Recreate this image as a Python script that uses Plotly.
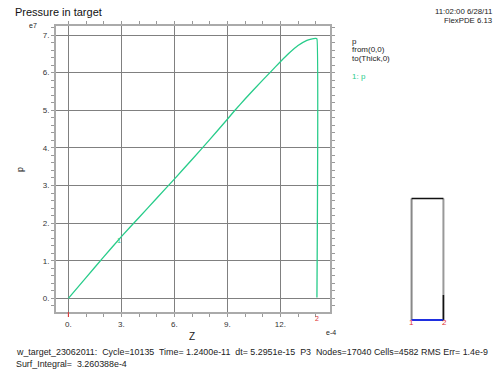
import plotly.graph_objects as go

# ---- data ----
z_vals = [0, 1, 2, 3, 4, 5, 6, 7, 8, 9, 9.43, 10, 11, 11.41, 12, 12.5, 13, 13.5, 13.8, 14.0, 14.07, 14.07]
p_vals = [0, 0.55, 1.1, 1.64, 2.15, 2.66, 3.17, 3.69, 4.22, 4.76, 5.0, 5.3, 5.8, 6.0, 6.29, 6.52, 6.72, 6.86, 6.90, 6.91, 6.9, 0.02]
x_ticks = [0, 3, 6, 9, 12]
x_tick_labels = ["0.", "3.", "6.", "9.", "12."]
y_ticks = [0, 1, 2, 3, 4, 5, 6, 7]
y_tick_labels = ["0.", "1.", "2.", "3.", "4.", "5.", "6.", "7."]
thick = 14.07
mini_height = 52.0
mini_seg_top = 10.7

W, H = 499, 374
FONT = "Liberation Sans, Arial, sans-serif"
GREEN = "#27cc8a"
RED = "#e03030"

def px(x):
    return x / W

def py(y):
    return 1 - y / H

fig = go.Figure()

fig.add_trace(go.Scatter(x=z_vals, y=p_vals, mode="lines",
                         line=dict(color=GREEN, width=1.3, shape="spline", smoothing=0.3),
                         showlegend=False, xaxis="x", yaxis="y"))

# mini map of domain
fig.add_trace(go.Scatter(x=[0, 0], y=[0, mini_height], mode="lines",
                         line=dict(color="#888", width=2), showlegend=False, xaxis="x2", yaxis="y2"))
fig.add_trace(go.Scatter(x=[thick, thick], y=[0, mini_height], mode="lines",
                         line=dict(color="#999", width=2), showlegend=False, xaxis="x2", yaxis="y2"))
fig.add_trace(go.Scatter(x=[0, thick], y=[mini_height, mini_height], mode="lines",
                         line=dict(color="#111", width=1.5), showlegend=False, xaxis="x2", yaxis="y2"))
fig.add_trace(go.Scatter(x=[thick, thick], y=[0, mini_seg_top], mode="lines",
                         line=dict(color="#111", width=1.5), showlegend=False, xaxis="x2", yaxis="y2"))
fig.add_trace(go.Scatter(x=[0, thick], y=[0, 0], mode="lines",
                         line=dict(color="#1f2fe0", width=2), showlegend=False, xaxis="x2", yaxis="y2"))

axis_common = dict(showline=True, linecolor="#aaa", linewidth=2, mirror="allticks",
                   ticks="outside", ticklen=3, tickcolor="#999",
                   showgrid=True, gridcolor="#808080", gridwidth=1, zeroline=False,
                   tickfont=dict(family=FONT, size=8, color="#333"))

fig.update_layout(
    width=W, height=H,
    margin=dict(l=0, r=0, t=0, b=0),
    paper_bgcolor="white", plot_bgcolor="white",
    xaxis=dict(domain=[px(56), px(330)], range=[-0.70, 14.81],
               tickmode="array", tickvals=x_ticks, ticktext=x_tick_labels,
               minor=dict(tickmode="linear", tick0=0, dtick=1, ticks="outside", ticklen=3, tickcolor="#999", showgrid=False),
               anchor="y", **axis_common),
    yaxis=dict(domain=[py(312), py(26)], range=[-0.364, 7.24],
               tickmode="array", tickvals=y_ticks, ticktext=y_tick_labels,
               minor=dict(tickmode="linear", tick0=0, dtick=0.2, ticks="outside", ticklen=3, tickcolor="#999", showgrid=False),
               anchor="x", **axis_common),
    xaxis2=dict(domain=[px(410), px(445)], range=[-0.7, thick + 0.7], visible=False, anchor="y2"),
    yaxis2=dict(domain=[py(321.5), py(197)], range=[-0.6, mini_height + 0.6], visible=False, anchor="x2"),
)

def ann(text, x, y, size=8, color="#222", xanchor="left", yanchor="middle", textangle=0, xref="paper", yref="paper"):
    fig.add_annotation(text=text, x=x, y=y, xref=xref, yref=yref, showarrow=False,
                       xanchor=xanchor, yanchor=yanchor, textangle=textangle,
                       font=dict(family=FONT, size=size, color=color))

ann("Pressure in target", px(13), py(12), size=11, color="#111")
ann("11:02:00 6/28/11", px(494), py(11.5), size=7.8, xanchor="right")
ann("FlexPDE 6.13", px(494), py(20.5), size=7.8, xanchor="right")
ann("e7", px(27), py(25), size=7)
ann("p", px(20), py(170), size=9, textangle=-90, xanchor="center")
ann("Z", px(192), py(336), size=10, xanchor="center")
ann("e-4", px(324), py(332), size=7)
ann("p", px(350), py(41), size=8)
ann("from(0,0)", px(350), py(50), size=8)
ann("to(Thick,0)", px(350), py(59), size=8)
ann("1: p", px(350), py(77), size=8, color=GREEN)
ann("1", 2.88, 1.55, size=7, color=GREEN, xanchor="center", xref="x", yref="y")
ann("2", thick, py(318), size=7, color=RED, xanchor="center", xref="x", yref="paper")
ann("1", px(411), py(322), size=8, color=RED, xanchor="center")
ann("2", px(444), py(322), size=8, color=RED, xanchor="center")
ann("w_target_23062011:  Cycle=10135  Time= 1.2400e-11  dt= 5.2951e-15  P3  Nodes=17040 Cells=4582 RMS Err= 1.4e-9",
    px(14), py(352), size=8.9)
ann("Surf_Integral=  3.260388e-4", px(14), py(364), size=8.9)

fig.add_shape(type="line", xref="x", yref="paper", x0=0, x1=0, y0=py(312), y1=py(317),
              line=dict(color=RED, width=1))

fig.write_html("out.html", config={"displayModeBar": False},
               post_script="document.body.style.margin='0';document.body.style.overflow='hidden';")
